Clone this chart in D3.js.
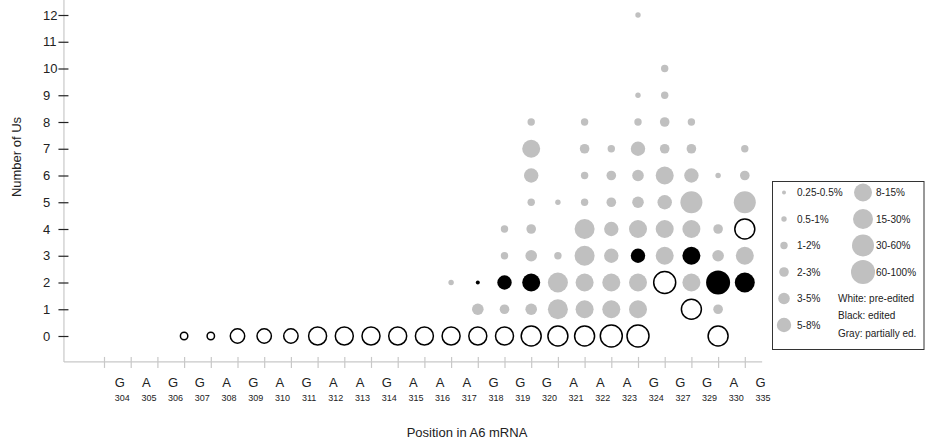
<!DOCTYPE html>
<html>
<head>
<meta charset="utf-8">
<script src="https://cdn.jsdelivr.net/npm/d3@7"></script>
<style>
  html, body { margin: 0; padding: 0; background: #fff; }
  svg { display: block; font-family: Arial, "Liberation Sans", sans-serif; }
</style>
</head>
<body>
<svg id="chart" width="925" height="445"></svg>
<script>
// ---- data ----
const positions = ['304','305','306','307','308','309','310','311','312','313','314','315','316','317','318','319','320','321','322','323','324','327','329','330','335'];
const nucleotides = ['G','A','G','G','A','G','A','G','A','A','G','A','A','A','G','G','G','A','A','A','G','G','G','A','G'];
const yTicks = [0,1,2,3,4,5,6,7,8,9,10,11,12];
const sizeBins = ['0.25-0.5%','0.5-1%','1-2%','2-3%','3-5%','5-8%','8-15%','15-30%','30-60%','60-100%'];
const stateNotes = ['White: pre-edited','Black: edited','Gray: partially ed.'];

// [position, number of Us, size bin index]
const preEdited = [
  ['306',0,2],['307',0,2],['308',0,5],['309',0,5],['310',0,5],['311',0,6],['312',0,6],['313',0,6],
  ['314',0,6],['315',0,6],['316',0,6],['317',0,6],['318',0,6],['319',0,7],['320',0,7],['321',0,7],
  ['322',0,8],['323',0,8],['329',0,7],['327',1,7],['324',2,8],['330',4,7]
];
const edited = [
  ['317',2,0],['318',2,5],['319',2,6],['329',2,9],['330',2,7],['323',3,5],['327',3,6]
];
const partiallyEdited = [
  ['317',1,4],['318',1,3],['319',1,4],['320',1,7],['321',1,6],['322',1,6],['323',1,6],['329',1,3],
  ['316',2,1],['320',2,7],['321',2,6],['322',2,6],['323',2,6],['327',2,6],
  ['318',3,2],['319',3,4],['320',3,2],['321',3,7],['322',3,5],['324',3,6],['329',3,4],['330',3,6],
  ['318',4,2],['319',4,3],['321',4,7],['322',4,5],['323',4,6],['324',4,6],['327',4,6],['329',4,3],
  ['319',5,2],['320',5,1],['321',5,2],['322',5,3],['323',5,4],['324',5,5],['327',5,8],['330',5,8],
  ['319',6,5],['321',6,2],['322',6,3],['323',6,4],['324',6,6],['327',6,5],['329',6,1],['330',6,3],
  ['319',7,6],['321',7,3],['322',7,2],['323',7,5],['324',7,3],['327',7,3],['330',7,2],
  ['319',8,2],['321',8,2],['323',8,2],['324',8,3],['327',8,2],
  ['323',9,1],['324',9,2],
  ['324',10,2],
  ['323',12,1]
];

// ---- scales ----
const svg = d3.select('#chart');
const x = d3.scaleLinear().domain([-1, 24]).range([104, 771.5]);
const y = d3.scaleLinear().domain([0, 12]).range([336, 15]);
const r = d3.scaleOrdinal().domain(sizeBins).range([2, 2.7, 3.7, 4.8, 5.8, 7.2, 9, 10, 11, 12]);
const GRAY = '#c0c0c0';
const AXIS_GRAY = '#c8c8c8';
const xi = p => x(positions.indexOf(p));

// ---- axes lines ----
svg.append('line').attr('x1', x(-2.5)).attr('x2', x(23.65)).attr('y1', y(-0.97)).attr('y2', y(-0.97))
  .attr('stroke', AXIS_GRAY).attr('stroke-width', 1.2);
svg.append('line').attr('x1', x(-2.5)).attr('x2', x(-2.5)).attr('y1', y(12.6)).attr('y2', y(-0.97))
  .attr('stroke', AXIS_GRAY).attr('stroke-width', 1.2);

// x ticks
const xAxis = d3.axisBottom(x).tickValues(d3.range(-1, 24)).tickSize(11).tickFormat('');
const gx = svg.append('g').attr('transform', `translate(0,${y(-0.97) - 5})`).call(xAxis);
gx.select('.domain').remove();
gx.selectAll('.tick line').attr('stroke', AXIS_GRAY).attr('stroke-width', 1.2);

// y ticks
const yAxis = d3.axisLeft(y).tickValues(yTicks).tickSize(10).tickPadding(0);
const gy = svg.append('g').attr('transform', `translate(${x(-2.5) + 4.5},0)`).call(yAxis);
gy.select('.domain').remove();
gy.selectAll('.tick line').attr('stroke', '#222').attr('stroke-width', 1.2);
gy.selectAll('.tick text').attr('text-anchor', 'start').attr('x', 43 - (x(-2.5) + 4.5))
  .attr('font-size', 13).attr('fill', '#222').attr('font-family', 'Arial, "Liberation Sans", sans-serif');

// x labels: nucleotide + position number
const labels = svg.append('g');
labels.selectAll('text.nt').data(positions).join('text').attr('class', 'nt')
  .attr('x', (d, i) => x(i) - 11).attr('y', 387).attr('text-anchor', 'middle')
  .attr('font-size', 13).attr('fill', '#222').text((d, i) => nucleotides[i]);
labels.selectAll('text.pos').data(positions).join('text').attr('class', 'pos')
  .attr('x', (d, i) => x(i) - 8.5).attr('y', 401).attr('text-anchor', 'middle')
  .attr('font-size', 9).attr('fill', '#222').text(d => d);

// axis titles
svg.append('text').attr('x', 467).attr('y', 437).attr('text-anchor', 'middle')
  .attr('font-size', 13).attr('fill', '#222').text('Position in A6 mRNA');
svg.append('text').attr('transform', 'translate(21,157) rotate(-90)').attr('text-anchor', 'middle')
  .attr('font-size', 13).attr('fill', '#222').text('Number of Us');

// ---- bubbles ----
const g = svg.append('g');
g.selectAll('circle.partial').data(partiallyEdited).join('circle').attr('class', 'partial')
  .attr('cx', d => xi(d[0])).attr('cy', d => y(d[1])).attr('r', d => r(sizeBins[d[2]]))
  .attr('fill', GRAY);
g.selectAll('circle.edited').data(edited).join('circle').attr('class', 'edited')
  .attr('cx', d => xi(d[0])).attr('cy', d => y(d[1])).attr('r', d => r(sizeBins[d[2]]))
  .attr('fill', '#000');
g.selectAll('circle.pre').data(preEdited).join('circle').attr('class', 'pre')
  .attr('cx', d => xi(d[0])).attr('cy', d => y(d[1])).attr('r', d => r(sizeBins[d[2]]))
  .attr('fill', '#fff').attr('stroke', '#000').attr('stroke-width', 1.5);

// ---- legend ----
const lg = svg.append('g');
lg.append('rect').attr('x', 772.5).attr('y', 181.5).attr('width', 151.5).attr('height', 168)
  .attr('fill', '#fff').attr('stroke', '#333').attr('stroke-width', 1);
const rowY = i => 192.5 + i * 26.5;
sizeBins.forEach((b, i) => {
  const col = i < 6 ? 0 : 1;
  const row = col === 0 ? i : i - 6;
  const cx = col === 0 ? 784 : 863;
  const tx = col === 0 ? 797 : 876;
  lg.append('circle').attr('cx', cx).attr('cy', rowY(row)).attr('r', r(b)).attr('fill', GRAY);
  lg.append('text').attr('x', tx).attr('y', rowY(row) + 3.6).attr('font-size', 10).attr('fill', '#222').text(b);
});
stateNotes.forEach((t, i) => {
  lg.append('text').attr('x', 838).attr('y', 301.5 + i * 17.5).attr('font-size', 10).attr('fill', '#222').text(t);
});
</script>
</body>
</html>
